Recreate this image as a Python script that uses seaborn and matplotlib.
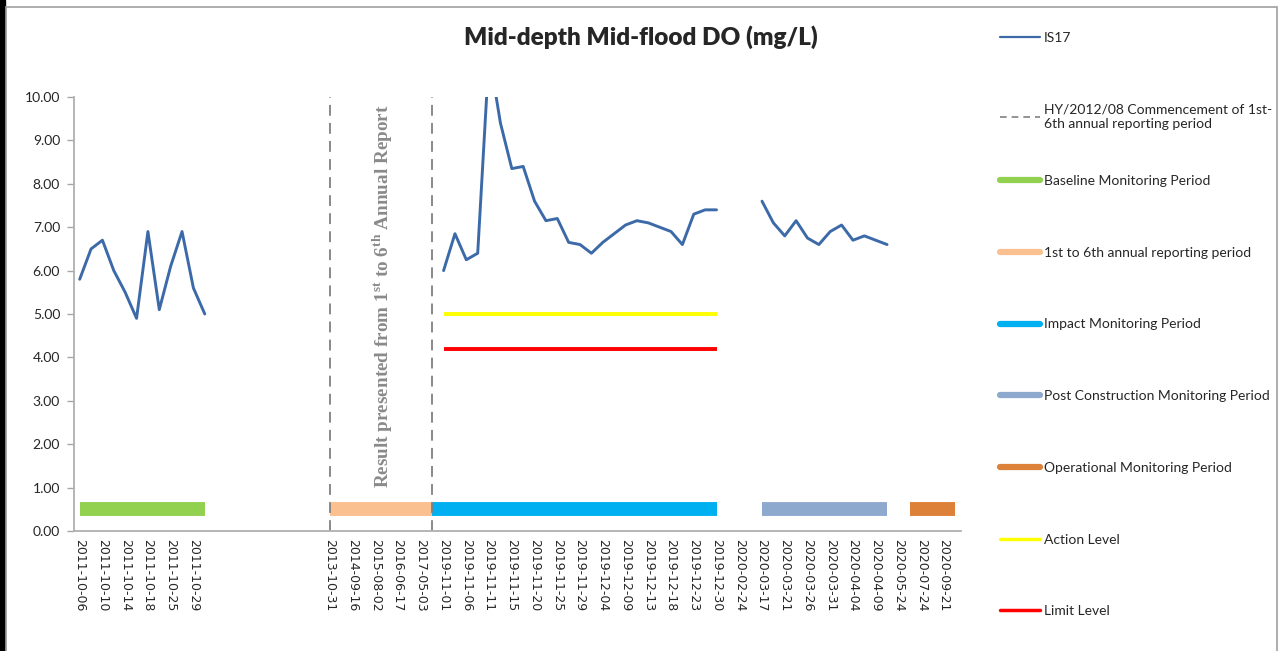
import matplotlib
matplotlib.use('Agg')
import matplotlib.pyplot as plt
from matplotlib.lines import Line2D
from matplotlib.patches import Rectangle
import numpy as np
import pandas as pd
import seaborn as sns

# labels shown on every other category of the x axis
tick_labels = ['2011-10-06', '2011-10-10', '2011-10-14', '2011-10-18', '2011-10-25', '2011-10-29',
               '', '', '', '', '',
               '2013-10-31', '2014-09-16', '2015-08-02', '2016-06-17', '2017-05-03',
               '2019-11-01', '2019-11-06', '2019-11-11', '2019-11-15', '2019-11-20', '2019-11-25',
               '2019-11-29', '2019-12-04', '2019-12-09', '2019-12-13', '2019-12-18', '2019-12-23',
               '2019-12-30', '2020-02-24', '2020-03-17', '2020-03-21', '2020-03-26', '2020-03-31',
               '2020-04-04', '2020-04-09', '2020-05-24', '2020-07-24', '2020-09-21']

# IS17 readings, one block per monitoring stage (category index where block starts)
baseline_do = [5.8, 6.5, 6.7, 6.0, 5.5, 4.9, 6.9, 5.1, 6.1, 6.9, 5.6, 5.0]
impact_do = [6.0, 6.85, 6.25, 6.4, 11.0, 9.4, 8.35, 8.4, 7.6, 7.15, 7.2, 6.65, 6.6,
             6.4, 6.65, 6.85, 7.05, 7.15, 7.1, 7.0, 6.9, 6.6, 7.3, 7.4, 7.4]
post_do = [7.6, 7.1, 6.8, 7.15, 6.75, 6.6, 6.9, 7.05, 6.7, 6.8, 6.7, 6.6]
block_starts = [0, 32, 60]

# monitoring periods drawn as thick bands near the axis
period_names = ['Baseline Monitoring Period', '1st to 6th annual reporting period',
                'Impact Monitoring Period', 'Post Construction Monitoring Period',
                'Operational Monitoring Period']
period_spans = [(0, 11), (22, 31), (31, 56), (60, 71), (73, 77)]
period_colors = ['#92D050', '#FAC090', '#00B0F0', '#8EA9CE', '#DD8038']
period_level = 0.5

action_level = 5.0
limit_level = 4.2
level_span = (32, 56)
commencement = [22, 31]

n_cat = 2 * len(tick_labels)

# build the long table for the DO series
do = np.full(n_cat, np.nan)
for start, vals in zip(block_starts, [baseline_do, impact_do, post_do]):
    do[start:start + len(vals)] = vals
df = pd.DataFrame({'pos': np.arange(n_cat), 'do': do})
df['seg'] = df['do'].isna().cumsum()
df = df.dropna()

sns.set_style('white')
plt.rcParams['font.family'] = ['Lato', 'DejaVu Sans']
plt.rcParams['mathtext.fontset'] = 'custom'
plt.rcParams['mathtext.rm'] = 'Liberation Serif:bold'
plt.rcParams['mathtext.bf'] = 'Liberation Serif:bold'

fig = plt.figure(figsize=(12.79, 6.51), dpi=100)
ax = fig.add_axes([74 / 1279, 120 / 651, 887 / 1279, 434 / 651])

line_blue = '#3C6AA8'
sns.lineplot(data=df, x='pos', y='do', units='seg', estimator=None, color=line_blue,
             lw=2.1, ax=ax, legend=False)

for (s, e), col in zip(period_spans, period_colors):
    sns.lineplot(x=[s, e], y=[period_level, period_level], color=col, lw=10,
                 solid_capstyle='butt', ax=ax, legend=False)

sns.lineplot(x=list(level_span), y=[action_level] * 2, color='#FFFF00', lw=2.8,
             solid_capstyle='butt', ax=ax, legend=False)
sns.lineplot(x=list(level_span), y=[limit_level] * 2, color='#FF0000', lw=2.8,
             solid_capstyle='butt', ax=ax, legend=False)

for c in commencement:
    ax.axvline(c, color='#808080', lw=1.3, dashes=(6, 4))

ax.text(26.6, 5.4, r'Result presented from 1$^{\mathbf{st}}$ to 6$^{\mathbf{th}}$ Annual Report',
        rotation=90, ha='center', va='center', color='#8a8a8a', fontsize=13.8,
        family='Liberation Serif', fontweight='bold')

ax.set_xlim(-0.5, n_cat - 0.5)
ax.set_ylim(0, 10)
ax.set_yticks(np.arange(0, 11, 1))
ax.set_yticklabels([f'{v:.2f}' for v in np.arange(0, 11, 1)], fontsize=10)
ax.set_xticks(np.arange(0, n_cat, 2))
ax.set_xticklabels(tick_labels, rotation=-90, fontsize=9, family='DejaVu Sans')
ax.set_xticks(np.arange(-0.5, n_cat, 4), minor=True)
ax.tick_params(axis='x', which='major', length=0, pad=6)
ax.tick_params(axis='x', which='minor', length=5, color='#a6a6a6', width=1)
ax.tick_params(axis='y', length=5, color='#a6a6a6', width=1, left=True, pad=5)
ax.set_xlabel('')
ax.set_ylabel('')
for side in ['top', 'right']:
    ax.spines[side].set_visible(False)
for side in ['left', 'bottom']:
    ax.spines[side].set_color('#b0b0b0')
    ax.spines[side].set_linewidth(1.3)

fig.text(641 / 1279, 1 - 37 / 651, 'Mid-depth Mid-flood DO (mg/L)', ha='center', va='center',
         fontsize=17.5, fontweight='heavy')

handles = [Line2D([], [], color=line_blue, lw=1.6),
           Line2D([], [], color='#808080', lw=1.2, dashes=(4, 3))]
handles += [Line2D([], [], color=col, lw=4.5) for col in period_colors]
handles += [Line2D([], [], color='#FFFF00', lw=2.5), Line2D([], [], color='#FF0000', lw=2.5)]
labels = ['IS17', 'HY/2012/08 Commencement of 1st-\n6th annual reporting period'] + \
         period_names + ['Action Level', 'Limit Level']

# legend split in two so that the wrapped entry does not push the rest down
leg_kw = dict(loc='upper left', frameon=False, fontsize=10, labelspacing=4.3,
              handlelength=2.9, handletextpad=0.25, borderpad=0, borderaxespad=0)
fig.legend(handles[:2], labels[:2], bbox_to_anchor=(1000 / 1279, 1 - 32 / 651), **leg_kw)
fig.legend(handles[2:], labels[2:], bbox_to_anchor=(1000 / 1279, 1 - 175 / 651), **leg_kw)

# chart frame
fig.patches.append(Rectangle((0, 0), 5 / 1279, 1, transform=fig.transFigure,
                             color='black', zorder=0))
fig.patches.append(Rectangle((6 / 1279, -0.01), 1271 / 1279, 1 - 7 / 651 + 0.01,
                             transform=fig.transFigure, fill=False,
                             edgecolor='#a0a0a0', lw=1.2, zorder=0))

fig.savefig('out.png', dpi=100)
